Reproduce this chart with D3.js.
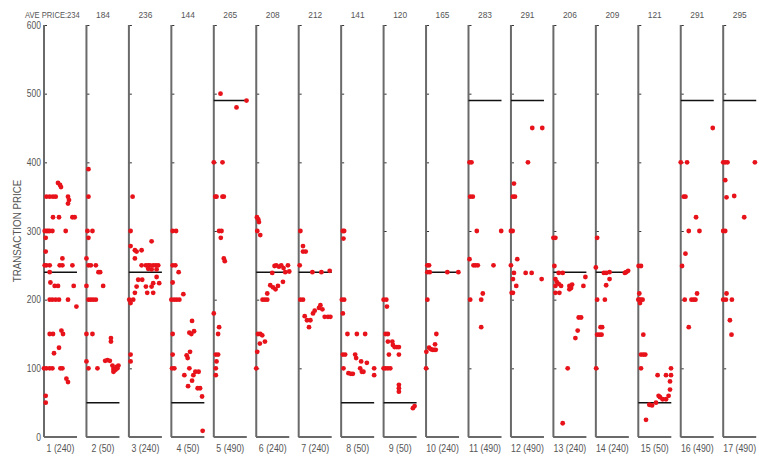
<!DOCTYPE html>
<html>
<head>
<meta charset="utf-8">
<script src="https://cdn.jsdelivr.net/npm/d3@7"></script>
<style>
  html, body { margin: 0; padding: 0; background: #fff; }
  svg { display: block; }
  text { font-family: "Liberation Sans", Arial, sans-serif; fill: #555; }
</style>
</head>
<body>
<svg id="chart" width="759" height="458"></svg>
<script>
// ---------------- DATA ----------------
const sessions = ["1","2","3","4","5","6","7","8","9","10","11","12","13","14","15","16","17"];
const refPrices = [240, 50, 240, 50, 490, 240, 240, 50, 50, 240, 490, 490, 240, 240, 50, 490, 490];
const avePrices = [234, 184, 236, 144, 265, 208, 212, 141, 120, 165, 283, 291, 206, 209, 121, 291, 295];
const priceTicks = [0, 100, 200, 300, 400, 500, 600];
// each trade: [time within session (0-33), transaction price]
const trades1 = [[14,370],[16,367],[17,364],[2.4,350],[5.7,350],[9,350],[11.7,350],[24,350],[25,345],[24,340],
  [9,320],[15,320],[28.4,320],[30.7,320],[0.7,300],[2.4,300],[4,300],[5.7,300],[8.4,300],[21.7,300],
  [1.7,290],[1.7,270],[18.4,260],[0.7,250],[2.4,250],[5.7,250],[15.7,250],[18.4,250],[28.4,250],
  [5.7,240],[6.4,225],[10.7,220],[14,220],[29.7,220],[5.7,200],[8.4,200],[11.7,200],[15,200],[24,200],[32.4,190],
  [5.7,150],[9,150],[17.4,155],[19,150],[15,130],[10,122],[0,100],[2.4,100],[5.7,100],[8.4,100],[16.4,100],[18.4,100],
  [22.4,85],[24,80],[1.7,60],[1.7,50]];
const trades2 = [[2,390],[2,350],[1,300],[6,300],[2,290],[0,260],[2,250],[4.4,250],[9.4,250],[12,240],[13.7,240],
  [0,220],[16.7,220],[2,200],[4.4,200],[6.7,200],[9.4,200],[0,150],[6,150],[24.5,144],[24.5,139],[0,110],
  [18.7,111],[21,112],[23.4,111],[26,104],[2,100],[11,100],[27,99],[28,97],[30,102],[32,104],[27,95],[29,98],[31,100]];
const trades3 = [[3.7,350],[1.7,300],[22.7,285],[1.7,278],[6,272],[7.7,270],[12.7,272],[6,260],[12.7,250],[17,250],
  [19.3,250],[21,250],[24.3,250],[27,250],[29.3,250],[19.3,245],[22.7,244],[27.7,244],[27.7,233],[9.3,229],[13.3,229],
  [24.3,224],[30.3,224],[7.7,219],[17,219],[22.7,219],[6,210],[18.3,210],[24.3,210],[0.3,200],[1.7,195],[4.3,200],
  [1.7,120],[1.7,110]];
const trades4 = [[1.3,300],[4.7,300],[1.3,250],[4,250],[7.3,240],[1.3,225],[12,208],[0,200],[2.7,200],[5.3,200],[8,200],
  [20.7,169],[18,152],[20,150],[22.7,154],[1.3,150],[18.7,124],[15.3,119],[16.3,115],[1.3,120],[0.7,100],[3,100],
  [18,100],[24,95],[27.3,95],[13,90],[22,90],[20.7,82],[16.7,74],[26.3,71],[28.7,71],[30.7,59],[31.3,9]];
const trades5 = [[6.7,500],[32.7,490],[22.7,480],[0,400],[8.7,400],[1.5,350],[2.7,350],[8.7,350],[10,350],[5.3,300],
  [7.7,300],[7,290],[10,260],[11,256],[0,180],[5.3,160],[4.3,150],[2,120],[4.3,120],[2.7,110],[2,100],[2,90]];
const trades6 = [[0.7,320],[2,317],[2.7,313],[1,300],[4,294],[18.3,249],[20,250],[22.7,248],[25,250],[27.3,246],
  [31.7,250],[29,240],[33,241],[16,239],[26.7,226],[14,221],[16.7,218],[19.3,215],[21.7,220],[11,209],[6.3,200],
  [8.7,200],[11,200],[1.7,150],[4,150],[6,148],[8.7,139],[3.6,136],[1,124],[0,100]];
const trades7 = [[1.7,300],[4.3,278],[4.3,270],[7,270],[1,250],[13.7,240],[22.7,240],[31,242],[1.7,200],[4.3,200],
  [6,176],[8.3,170],[11.7,170],[10.3,160],[14.3,180],[16,184],[20.3,188],[21.7,192],[23.7,186],[26,175],[29.3,175],[31.7,175]];
const trades8 = [[1.7,300],[3,300],[2.3,289],[0.7,200],[3,200],[1.7,180],[6.3,150],[15.7,150],[24,150],[1.7,120],[4,120],
  [14,120],[15,115],[20,110],[25.7,108],[2.3,100],[19,100],[33,100],[20.7,95],[22.3,95],[7.3,93],[9.7,92],[11.7,92],[33,90]];
const trades9 = [[0,200],[2.7,200],[3.3,190],[2,150],[4.3,150],[4.3,139],[8.7,139],[9.3,134],[11,131],[13.3,131],[15.3,131],
  [5.3,120],[15.3,120],[0,100],[2,100],[4.3,100],[6.7,100],[15.3,76],[15.3,71],[15.3,66],[29.3,42],[31,45]];
const trades10 = [[1.3,250],[3,250],[1.3,240],[3.7,240],[21.3,240],[32.3,240],[1.3,200],[10.3,150],[9,135],[3,130],
  [4.7,128],[6.3,127],[8,127],[9.7,127],[0.3,124],[0,100]];
const trades11 = [[1,400],[3,400],[1.7,350],[4.3,350],[8.3,300],[32.7,300],[1,259],[5,250],[7,250],[9.3,250],[25,250],
  [14.3,209],[1.7,200],[12.7,200],[12.7,160]];
const trades12 = [[21.3,450],[31.3,450],[17,400],[3,369],[2,350],[4,350],[0,300],[1.7,300],[6.3,259],[0,250],[3,239],
  [14.7,239],[20.7,239],[2,230],[30.7,230],[5.3,220],[0.7,210],[2,210]];
const trades13 = [[0,290],[2,290],[1,249],[5.3,239],[9.3,239],[32,233],[2,230],[3.3,226],[5.3,223],[2,220],[7.7,220],
  [16,220],[18.7,222],[30,220],[16,215],[17.7,217],[2,210],[6,210],[25.3,174],[27.7,174],[24.3,155],[22,144],[14.3,100],[9.3,20]];
const trades14 = [[1.3,290],[0,247],[8,239],[10.3,239],[13.7,240],[29,239],[30.3,240],[32.3,242],[13.7,230],[10.3,221],
  [1.3,200],[9,200],[4.7,160],[6.3,160],[1.3,149],[3.7,149],[5.7,149],[0.3,100]];
const trades15 = [[0.3,249],[2.7,249],[1,209],[0,200],[1,200],[2.7,200],[4.3,200],[1.7,195],[5,149],[2.7,120],[5,120],
  [7,120],[2.7,100],[19.3,90],[27.7,90],[32.7,90],[32.7,100],[31.7,81],[31.7,69],[20.3,60],[21.7,58],[30.3,60],
  [24.3,55],[27.7,55],[17.7,50],[11,47],[13.7,46],[7.7,25]];
const trades16 = [[32,450],[0,400],[6.3,400],[3,350],[4.7,350],[15.3,320],[8,300],[18.7,300],[4.7,267],[1.3,249],
  [16.3,209],[4,200],[10.7,200],[13,200],[14.7,200],[8,160]];
const trades17 = [[0,400],[2,400],[4.3,400],[31.7,400],[2,374],[3.3,349],[11,351],[21,320],[0,300],[2,300],[3.3,209],
  [0,200],[2.7,200],[8.7,200],[6.7,170],[8.3,149]];
const allTrades = [trades1,trades2,trades3,trades4,trades5,trades6,trades7,trades8,trades9,trades10,
  trades11,trades12,trades13,trades14,trades15,trades16,trades17];

// ---------------- DRAW ----------------
const svg = d3.select("#chart");
const yTop = 25, yBottom = 437;
const y = d3.scaleLinear().domain([0, 600]).range([yBottom, yTop]);
const panel = d3.scaleBand().domain(sessions).range([44, 756.2]).paddingInner(0.2226).paddingOuter(0);
const bw = panel.bandwidth();
const t = d3.scaleLinear().domain([0, 33]).range([0, bw]);

const axisColor = "#6a6a6a";

function label(x, yy, txt, anchor, size, sx) {
  svg.append("text")
    .attr("transform", `translate(${x},${yy}) scale(${sx},1)`)
    .attr("text-anchor", anchor)
    .style("font-size", size + "px")
    .text(txt);
}

sessions.forEach((s, i) => {
  const x0 = panel(s);
  const g = svg.append("g").attr("transform", `translate(${x0},0)`);
  // vertical axis ticks (inward)
  const ax = d3.axisRight(y).tickValues(priceTicks).tickSize(3).tickFormat("");
  const ag = g.append("g").call(ax);
  ag.select(".domain").remove();
  ag.selectAll(".tick line").attr("stroke", "#333").attr("stroke-width", 1);
  g.append("line").attr("x1", 0).attr("x2", 0).attr("y1", yTop).attr("y2", yBottom)
    .attr("stroke", axisColor).attr("stroke-width", 2);
  // bottom baseline
  g.append("line").attr("x1", 0).attr("x2", bw).attr("y1", y(0)).attr("y2", y(0))
    .attr("stroke", axisColor).attr("stroke-width", 2);
  // reference line
  g.append("line").attr("x1", 0).attr("x2", bw).attr("y1", y(refPrices[i])).attr("y2", y(refPrices[i]))
    .attr("stroke", "#111").attr("stroke-width", 1.5);
  // trades
  g.selectAll("circle").data(allTrades[i]).join("circle")
    .attr("cx", d => t(d[0])).attr("cy", d => y(d[1])).attr("r", 2.4)
    .attr("fill", "#e8121a");
  // bottom label
  label(x0 + bw / 2, 452, `${s} (${refPrices[i]})`, "middle", 10, 0.88);
  // top label
  if (i === 0) label(25, 17.5, `AVE PRICE:${avePrices[i]}`, "start", 9.5, 0.8);
  else label(x0 + bw / 2, 17.5, `${avePrices[i]}`, "middle", 9.5, 0.88);
});

// y tick labels for first panel
priceTicks.forEach(v => label(41, y(v) + 3.8, String(v), "end", 10, 0.85));

// y axis title
svg.append("text")
  .attr("transform", `translate(21,${(yTop + yBottom) / 2}) rotate(-90) scale(0.93,1)`)
  .attr("text-anchor", "middle")
  .style("font-size", "10.5px")
  .text("TRANSACTION PRICE");
</script>
</body>
</html>
